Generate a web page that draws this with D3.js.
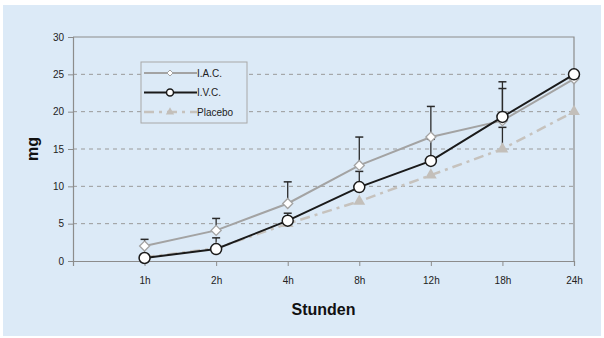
<!DOCTYPE html>
<html>
<head>
<meta charset="utf-8">
<script src="https://cdn.jsdelivr.net/npm/d3@7"></script>
<style>
  body { margin: 0; background: #fff; }
  text { font-family: "Liberation Sans", Arial, sans-serif; }
</style>
</head>
<body>
<div id="chart"></div>
<script>
// values
var hours = ["1h", "2h", "4h", "8h", "12h", "18h", "24h"];
var iacValues = [2.0, 4.1, 7.7, 12.8, 16.6, 18.8, 24.4];
var iacUpper = [2.9, 5.7, 10.6, 16.6, 20.7, 23.1, null];
var ivcValues = [0.4, 1.6, 5.4, 9.9, 13.4, 19.3, 25.0];
var ivcUpper = [null, 3.1, 6.4, 12.0, 16.3, 24.0, null];
var placeboValues = [0.5, 1.7, 5.0, 8.0, 11.5, 15.0, 20.0];
var placeboUpper = [null, null, null, null, null, 17.9, null];
var yTicks = [0, 5, 10, 15, 20, 25, 30];
var legendNames = ["I.A.C.", "I.V.C.", "Placebo"];

var width = 604, height = 338;
var margin = { top: 37, right: 30, bottom: 77, left: 73 };

var svg = d3.select("#chart")
  .append("svg")
  .attr("width", width)
  .attr("height", height);

// light blue panel
svg.append("rect")
  .attr("x", 3).attr("y", 5)
  .attr("width", 598).attr("height", 331)
  .style("fill", "#dceaf7");

var x = d3.scalePoint()
  .domain([""].concat(hours))
  .range([margin.left, width - margin.right]);

var y = d3.scaleLinear()
  .domain([0, 30])
  .range([height - margin.bottom, margin.top]);

// dashed grid
svg.selectAll("gridLines")
  .data(yTicks.filter(function (d) { return d > 0 && d < 30; }))
  .enter()
  .append("line")
  .attr("x1", margin.left)
  .attr("x2", width - margin.right)
  .attr("y1", function (d) { return y(d); })
  .attr("y2", function (d) { return y(d); })
  .attr("stroke", "#9a9a9a")
  .attr("stroke-width", 1)
  .attr("stroke-dasharray", "4,4");

// top and right frame
svg.append("path")
  .attr("d", "M" + margin.left + "," + y(30) + "H" + (width - margin.right) + "V" + y(0))
  .attr("fill", "none")
  .attr("stroke", "#8c8c8c")
  .attr("stroke-width", 1.2);

var yAxis = svg.append("g")
  .attr("transform", "translate(" + margin.left + ",0)")
  .call(d3.axisLeft(y).tickValues(yTicks).tickSize(5).tickPadding(4));
var xAxis = svg.append("g")
  .attr("transform", "translate(0," + y(0) + ")")
  .call(d3.axisBottom(x).tickSize(5).tickPadding(11));

[yAxis, xAxis].forEach(function (ax) {
  ax.select(".domain").attr("stroke", "#8c8c8c").attr("stroke-width", 1.2);
  ax.selectAll(".tick line").attr("stroke", "#8c8c8c");
  ax.selectAll("text")
    .style("font-size", "10px")
    .style("fill", "#222");
});

// axis titles
svg.append("text")
  .attr("x", (margin.left + width - margin.right) / 2)
  .attr("y", 315)
  .attr("text-anchor", "middle")
  .style("font-size", "16px")
  .style("font-weight", "bold")
  .style("fill", "#111")
  .text("Stunden");
svg.append("text")
  .attr("transform", "translate(38," + ((y(0) + y(30)) / 2) + ") rotate(-90)")
  .attr("text-anchor", "middle")
  .style("font-size", "16px")
  .style("font-weight", "bold")
  .style("fill", "#111")
  .text("mg");

var line = d3.line()
  .x(function (d, i) { return x(hours[i]); })
  .y(function (d) { return y(d); });

// error bars (upper only)
function errorBars(values, upper) {
  var data = hours.map(function (h, i) { return { h: h, v: values[i], u: upper[i] }; })
    .filter(function (d) { return d.u != null; });
  svg.selectAll(null)
    .data(data)
    .enter()
    .append("line")
    .attr("x1", function (d) { return x(d.h); })
    .attr("x2", function (d) { return x(d.h); })
    .attr("y1", function (d) { return y(d.v); })
    .attr("y2", function (d) { return y(d.u); })
    .attr("stroke", "#2a2a2a")
    .attr("stroke-width", 1.3);
  svg.selectAll(null)
    .data(data)
    .enter()
    .append("line")
    .attr("x1", function (d) { return x(d.h) - 4; })
    .attr("x2", function (d) { return x(d.h) + 4; })
    .attr("y1", function (d) { return y(d.u); })
    .attr("y2", function (d) { return y(d.u); })
    .attr("stroke", "#2a2a2a")
    .attr("stroke-width", 1.5);
}
errorBars(placeboValues, placeboUpper);
errorBars(ivcValues, ivcUpper);
errorBars(iacValues, iacUpper);

var triangle = d3.symbol().type(d3.symbolTriangle).size(60);
var diamond = "M0,-5L5,0L0,5L-5,0Z";

// placebo
svg.append("path")
  .datum(placeboValues)
  .attr("d", line)
  .attr("fill", "none")
  .attr("stroke", "#c6c2bd")
  .attr("stroke-width", 2.5)
  .attr("stroke-dasharray", "10,5,3,5");
svg.selectAll("placeboPts")
  .data(placeboValues)
  .enter()
  .append("path")
  .attr("d", triangle)
  .attr("transform", function (d, i) { return "translate(" + x(hours[i]) + "," + y(d) + ")"; })
  .attr("fill", "#c3bfba");

// I.A.C.
svg.append("path")
  .datum(iacValues)
  .attr("d", line)
  .attr("fill", "none")
  .attr("stroke", "#a3a3a3")
  .attr("stroke-width", 2);
svg.selectAll("iacPts")
  .data(iacValues)
  .enter()
  .append("path")
  .attr("d", diamond)
  .attr("transform", function (d, i) { return "translate(" + x(hours[i]) + "," + y(d) + ")"; })
  .attr("fill", "#fff")
  .attr("stroke", "#a3a3a3")
  .attr("stroke-width", 1.3);

// I.V.C.
svg.append("path")
  .datum(ivcValues)
  .attr("d", line)
  .attr("fill", "none")
  .attr("stroke", "#1a1a1a")
  .attr("stroke-width", 2);
svg.selectAll("ivcPts")
  .data(ivcValues)
  .enter()
  .append("circle")
  .attr("cx", function (d, i) { return x(hours[i]); })
  .attr("cy", function (d) { return y(d); })
  .attr("r", 5.5)
  .attr("fill", "#fff")
  .attr("stroke", "#1a1a1a")
  .attr("stroke-width", 1.5);

// legend
var legend = svg.append("g").attr("transform", "translate(141,62)");
legend.append("rect")
  .attr("width", 106).attr("height", 61)
  .attr("fill", "#dceaf7")
  .attr("stroke", "#a8a8a8");
var rows = [
  { color: "#a3a3a3", dash: null, w: 2 },
  { color: "#1a1a1a", dash: null, w: 2 },
  { color: "#c6c2bd", dash: "10,5,3,5", w: 2.5 }
];
rows.forEach(function (r, i) {
  var ly = 11 + i * 19.5;
  legend.append("line")
    .attr("x1", 3).attr("x2", 56)
    .attr("y1", ly).attr("y2", ly)
    .attr("stroke", r.color)
    .attr("stroke-width", r.w)
    .attr("stroke-dasharray", r.dash);
  var m;
  if (i == 0) {
    m = legend.append("path").attr("d", "M0,-3L3,0L0,3L-3,0Z")
      .attr("fill", "#fff").attr("stroke", r.color);
  } else if (i == 1) {
    m = legend.append("circle").attr("r", 3.5)
      .attr("fill", "#fff").attr("stroke", r.color).attr("stroke-width", 1.5);
  } else {
    m = legend.append("path").attr("d", d3.symbol().type(d3.symbolTriangle).size(30))
      .attr("fill", "#c3bfba");
  }
  m.attr("transform", "translate(29," + ly + ")");
  legend.append("text")
    .attr("x", 56)
    .attr("y", ly + 3.5)
    .style("font-size", "10px")
    .style("fill", "#222")
    .text(legendNames[i]);
});
</script>
</body>
</html>
